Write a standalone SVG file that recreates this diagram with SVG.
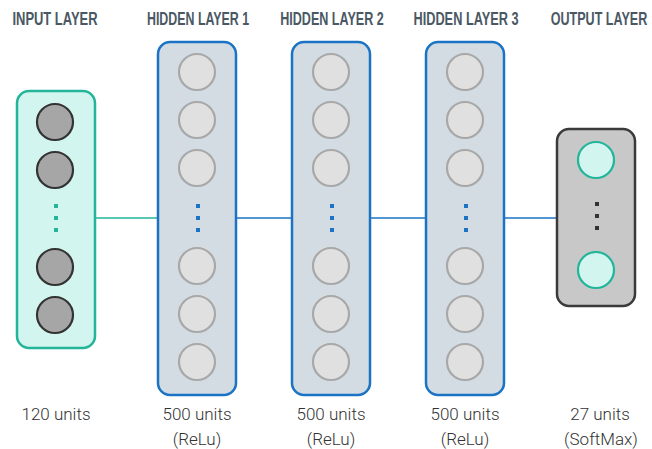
<svg xmlns="http://www.w3.org/2000/svg" width="652" height="449" viewBox="0 0 652 449">
<style>
.title{font-family:"Liberation Sans",Arial,sans-serif;font-weight:bold;font-size:18.5px;fill:#4a5864;text-anchor:middle}
.lab{font-family:Roboto,"Open Sans",sans-serif;font-weight:300;font-size:17px;fill:#333;text-anchor:middle}
.inbox{fill:#d3f5ef;stroke:#22b59a;stroke-width:2.5}
.hbox{fill:#d3dce2;stroke:#1a73c4;stroke-width:2.5}
.obox{fill:#c8c8c8;stroke:#3a3a3a;stroke-width:2.5}
.inc{fill:#a6a6a6;stroke:#333;stroke-width:2.2}
.hc{fill:#e0e0e0;stroke:#a8a8a8;stroke-width:2.2}
.oc{fill:#d3f5ef;stroke:#22b59a;stroke-width:2.2}
.conn{fill:none;stroke-width:1.6}
</style>
<g id="connectors">
<line class="conn" x1="95" y1="218" x2="158" y2="218" stroke="#22b59a"/>
<line class="conn" x1="236" y1="218" x2="292" y2="218" stroke="#1a73c4"/>
<line class="conn" x1="370" y1="218" x2="426" y2="218" stroke="#1a73c4"/>
<line class="conn" x1="504" y1="218" x2="557" y2="218" stroke="#1a73c4"/>
</g>
<g id="input-layer">
<text class="title" transform="translate(55,25) scale(0.7,1)">INPUT LAYER</text>
<rect class="inbox" x="17" y="91" width="78" height="257" rx="12"/>
<circle class="inc" cx="55" cy="122" r="18"/>
<circle class="inc" cx="55" cy="170" r="18"/>
<g fill="#22b59a"><rect x="54" y="204" width="4" height="4"/><rect x="54" y="216" width="4" height="4"/><rect x="54" y="228" width="4" height="4"/></g>
<circle class="inc" cx="55" cy="267" r="18"/>
<circle class="inc" cx="55" cy="315" r="18"/>
<text class="lab" x="56" y="420">120 units</text>
</g>
<g id="hidden-layer-1">
<text class="title" transform="translate(198,25) scale(0.67,1)">HIDDEN LAYER 1</text>
<rect class="hbox" x="158" y="42" width="78" height="353" rx="12"/>
<circle class="hc" cx="197" cy="72" r="18"/>
<circle class="hc" cx="197" cy="120" r="18"/>
<circle class="hc" cx="197" cy="168" r="18"/>
<g fill="#1a73c4"><rect x="196" y="204" width="4" height="4"/><rect x="196" y="216" width="4" height="4"/><rect x="196" y="228" width="4" height="4"/></g>
<circle class="hc" cx="197" cy="266" r="18"/>
<circle class="hc" cx="197" cy="314" r="18"/>
<circle class="hc" cx="197" cy="362" r="18"/>
<text class="lab" x="197" y="420">500 units</text>
<text class="lab" x="197" y="445">(ReLu)</text>
</g>
<g id="hidden-layer-2">
<text class="title" transform="translate(332,25) scale(0.68,1)">HIDDEN LAYER 2</text>
<rect class="hbox" x="292" y="42" width="78" height="353" rx="12"/>
<circle class="hc" cx="331" cy="72" r="18"/>
<circle class="hc" cx="331" cy="120" r="18"/>
<circle class="hc" cx="331" cy="168" r="18"/>
<g fill="#1a73c4"><rect x="330" y="204" width="4" height="4"/><rect x="330" y="216" width="4" height="4"/><rect x="330" y="228" width="4" height="4"/></g>
<circle class="hc" cx="331" cy="266" r="18"/>
<circle class="hc" cx="331" cy="314" r="18"/>
<circle class="hc" cx="331" cy="362" r="18"/>
<text class="lab" x="331" y="420">500 units</text>
<text class="lab" x="331" y="445">(ReLu)</text>
</g>
<g id="hidden-layer-3">
<text class="title" transform="translate(466,25) scale(0.69,1)">HIDDEN LAYER 3</text>
<rect class="hbox" x="426" y="42" width="78" height="353" rx="12"/>
<circle class="hc" cx="465" cy="72" r="18"/>
<circle class="hc" cx="465" cy="120" r="18"/>
<circle class="hc" cx="465" cy="168" r="18"/>
<g fill="#1a73c4"><rect x="464" y="204" width="4" height="4"/><rect x="464" y="216" width="4" height="4"/><rect x="464" y="228" width="4" height="4"/></g>
<circle class="hc" cx="465" cy="266" r="18"/>
<circle class="hc" cx="465" cy="314" r="18"/>
<circle class="hc" cx="465" cy="362" r="18"/>
<text class="lab" x="465" y="420">500 units</text>
<text class="lab" x="465" y="445">(ReLu)</text>
</g>
<g id="output-layer">
<text class="title" transform="translate(599,25) scale(0.68,1)">OUTPUT LAYER</text>
<rect class="obox" x="557" y="129" width="78" height="177" rx="12"/>
<circle class="oc" cx="596" cy="160" r="18"/>
<g fill="#333"><rect x="595" y="202" width="4" height="4"/><rect x="595" y="214" width="4" height="4"/><rect x="595" y="226" width="4" height="4"/></g>
<circle class="oc" cx="596" cy="270" r="18"/>
<text class="lab" x="600" y="420">27 units</text>
<text class="lab" x="601" y="445">(SoftMax)</text>
</g>
</svg>
